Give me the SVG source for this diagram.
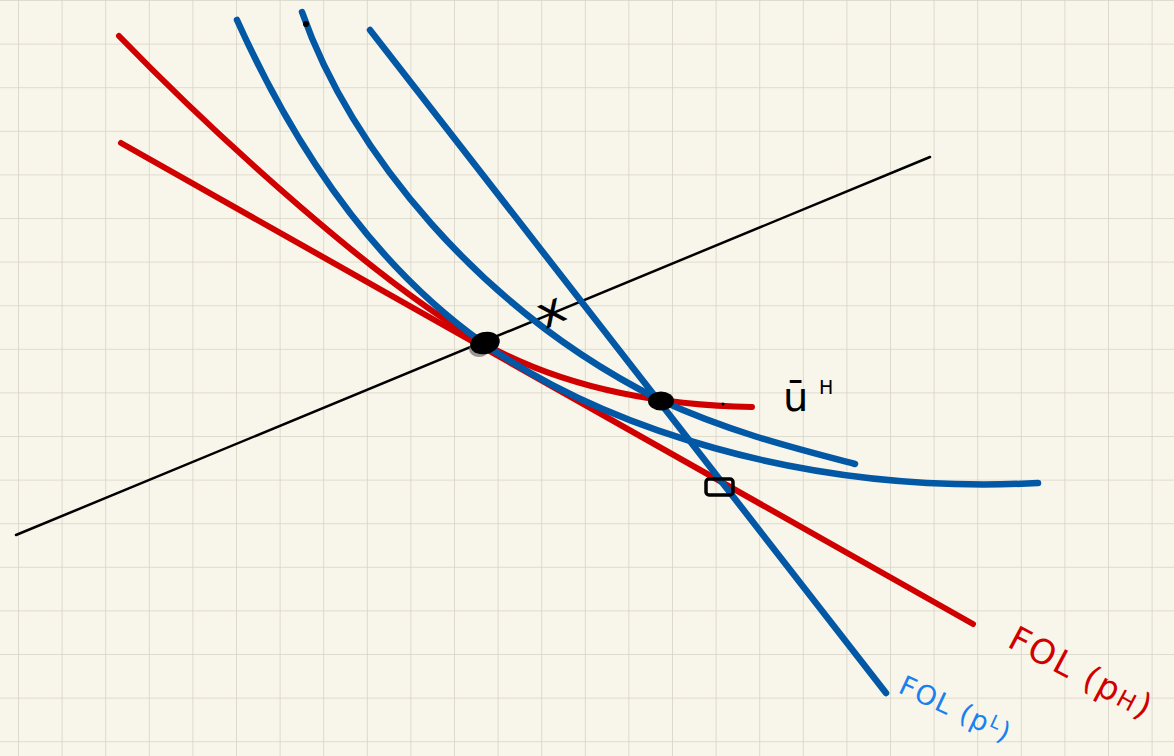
<svg xmlns="http://www.w3.org/2000/svg" width="1174" height="756" viewBox="0 0 1174 756">
  <style>
    .red { fill: none; stroke: #d10000; stroke-width: 6; stroke-linecap: round; stroke-linejoin: round; }
    .blue { fill: none; stroke: #0358a6; stroke-width: 6.5; stroke-linecap: round; stroke-linejoin: round; }
    .axis { fill: none; stroke: #000; stroke-width: 2.5; stroke-linecap: round; }
    .hand { font-family: "DejaVu Sans", "Liberation Sans", sans-serif; font-weight: normal; }
  </style>
  <defs>
    <pattern id="grid" x="18" y="0" width="43.6" height="43.6" patternUnits="userSpaceOnUse">
      <path d="M0,0 V43.6 M0,0 H43.6" fill="none" stroke="#d6d3c5" stroke-width="1.6"/>
    </pattern>
  </defs>
  <rect width="1174" height="756" fill="#f8f6ea"/>
  <rect width="1174" height="756" fill="url(#grid)"/>

  <g id="connectors">
    <line class="axis" x1="16" y1="535" x2="930" y2="157"/>
    <line class="red" x1="121" y1="143" x2="973" y2="624"/>
    <path class="red" d="M119,36 C220,140 380,285 483,343 C560,386 650,405 752,407"/>
    <path class="blue" d="M237,20 C300,160 380,270 483,343 C600,425 800,495 1038,483"/>
    <path class="blue" d="M302,12 C350,150 480,310 660,400 C730,432 790,447 855,464"/>
    <line class="blue" x1="370" y1="30" x2="886" y2="693"/>
  </g>

  <g id="point-tangency">
    <ellipse cx="479" cy="349" rx="10" ry="8" fill="#6e6e6e" opacity="0.7"/>
    <ellipse cx="485" cy="343" rx="15" ry="11" transform="rotate(-15 485 343)" fill="#000"/>
  </g>
  <g id="point-uH">
    <ellipse cx="661" cy="401" rx="13" ry="9.5" fill="#000"/>
  </g>
  <g id="point-square">
    <rect x="706" y="479" width="27" height="16" rx="3" fill="none" stroke="#000" stroke-width="3.5"/>
  </g>
  <g id="marks">
    <circle cx="306" cy="24" r="3" fill="#000"/>
    <circle cx="723" cy="404" r="1.5" fill="#000"/>
  </g>

  <g id="label-x">
    <text class="hand" x="0" y="0" font-size="44" fill="#000" text-anchor="middle" transform="translate(557,324) rotate(-25)">x</text>
  </g>
  <g id="label-uH">
    <text class="hand" x="783" y="411" font-size="40" fill="#000">ū</text>
    <text class="hand" x="819" y="394" font-size="19" fill="#000">H</text>
  </g>
  <g id="label-FOL-pH">
    <text class="hand" x="0" y="0" font-size="34" fill="#d10000" letter-spacing="2" transform="translate(1006,646) rotate(28)">FOL (p<tspan font-size="24">H</tspan>)</text>
  </g>
  <g id="label-FOL-pL">
    <text class="hand" x="0" y="0" font-size="27" fill="#1a80ee" letter-spacing="1.5" transform="translate(897,692) rotate(25)">FOL (p<tspan font-size="18" dy="-8">L</tspan><tspan dy="8">)</tspan></text>
  </g>
</svg>
